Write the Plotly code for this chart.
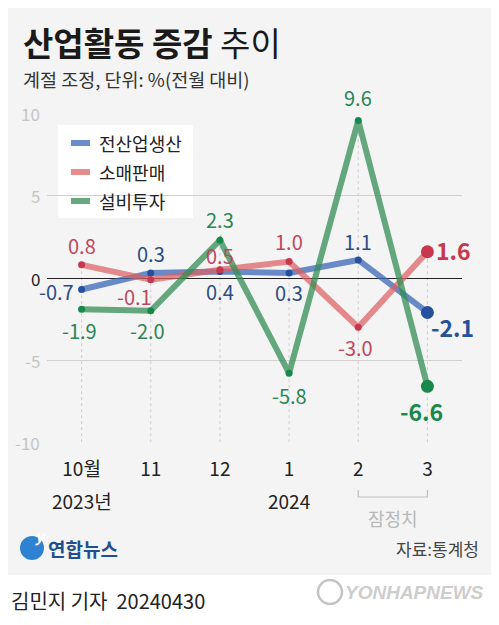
import plotly.graph_objects as go

# ---- data ----
months = ["10월", "11", "12", "1", "2", "3"]
years = ["2023년", "", "", "2024", "", ""]
series_names = ["전산업생산", "소매판매", "설비투자"]
industry = [-0.7, 0.3, 0.4, 0.3, 1.1, -2.1]
retail = [0.8, -0.1, 0.5, 1.0, -3.0, 1.6]
investment = [-1.9, -2.0, 2.3, -5.8, 9.6, -6.6]
y_ticks = [-10, -5, 0, 5, 10]

# the page puts the figure 8px in from the top-left corner,
# so the figure is 8px smaller and every screen position is shifted back
OFF = 8
W, H = 499 - OFF, 625 - OFF
L, R, T, B = 47 - OFF, 37, 113 - OFF, 182
PW, PH = W - L - R, H - T - B
FONT = "Noto Sans CJK KR"


def px(sx):
    return (sx - OFF - L) / PW


def py(sy):
    return (H - B - (sy - OFF)) / PH


line_cols = ["rgba(58,104,186,0.75)", "rgba(220,96,98,0.72)", "rgba(52,142,86,0.75)"]
dot_cols = ["#24509c", "#c8374f", "#178a4b"]
txt_cols = ["#2d4c85", "#c0485b", "#2b8553"]
# label offsets from each point, in screen pixels (dx right, dy down)
label_dx = [[-25, 0, 0, 0, 0, 25], [0, -16, 0, 0, -3, 26], [-2, -3, 0, 0, 0, -6]]
label_dy = [[2, -20, 20, 19, -18, 15], [-19, 17, -14, -20, 20, -2], [21, 20, -21, 22, -23, 25]]

xs = list(range(len(months)))
fig = go.Figure()

# light dotted guides from the bottom up to the highest point of each month
for i in xs:
    top = max(industry[i], retail[i], investment[i])
    fig.add_shape(type="line", xref="x", yref="y", x0=i, x1=i, y0=-10, y1=top,
                  line=dict(color="#cfcfcf", width=1, dash="dot"), layer="below")

for k, vals in enumerate([industry, retail, investment]):
    n = len(vals)
    fig.add_trace(go.Scatter(
        x=xs, y=vals, mode="lines", name=series_names[k],
        line=dict(color=line_cols[k], width=6),
        cliponaxis=False, showlegend=False, hoverinfo="skip",
    ))
    fig.add_trace(go.Scatter(
        x=xs, y=vals, mode="markers", name=series_names[k],
        marker=dict(color=dot_cols[k], size=[7] * (n - 1) + [13], opacity=1,
                    line=dict(width=0)),
        cliponaxis=False, showlegend=False, hoverinfo="skip",
    ))
    for i, v in enumerate(vals):
        last = i == n - 1
        fig.add_annotation(
            x=i, y=v, text=f"{v:.1f}", showarrow=False,
            xshift=label_dx[k][i], yshift=-label_dy[k][i],
            font=dict(family=FONT, size=23 if last else 20,
                      color=dot_cols[k] if last else txt_cols[k],
                      weight="bold" if last else "normal"),
        )

# y tick labels
for v in y_ticks:
    fig.add_annotation(xref="paper", yref="y", x=px(42), y=v, text=str(v),
                       showarrow=False, xanchor="right", yanchor="middle",
                       font=dict(family=FONT, size=17, color="#222" if v == 0 else "#c4c4c4"))

# gray background panel
fig.add_shape(type="rect", xref="paper", yref="paper", x0=px(0), x1=px(520),
              y0=py(575), y1=py(0), fillcolor="#f4f4f4", line_width=0, layer="below")

# legend box
fig.add_shape(type="rect", xref="paper", yref="paper", x0=px(58), x1=px(193),
              y0=py(218), y1=py(125), fillcolor="white", line_width=0, layer="below")
for k, name in enumerate(series_names):
    yy = 143 + k * 29
    fig.add_shape(type="line", xref="paper", yref="paper", x0=px(71), x1=px(90),
                  y0=py(yy), y1=py(yy), line=dict(color=line_cols[k], width=6))
    fig.add_annotation(xref="paper", yref="paper", x=px(97), y=py(yy), text=name,
                       showarrow=False, xanchor="left", yanchor="middle",
                       font=dict(family=FONT, size=18, color="#222"))

# year labels under the months
for i, yr in enumerate(years):
    if yr:
        fig.add_annotation(xref="x", yref="paper", x=i, y=py(500), text=yr,
                           showarrow=False, yanchor="middle",
                           font=dict(family=FONT, size=19, color="#222"))

# provisional bracket
fig.add_shape(type="path", xref="x", yref="paper",
              path=f"M 4,{py(490)} L 4,{py(497)} L 5,{py(497)} L 5,{py(490)}",
              line=dict(color="#bdbdbd", width=1.2))
fig.add_annotation(xref="x", yref="paper", x=4.5, y=py(518), text="잠정치",
                   showarrow=False, yanchor="middle",
                   font=dict(family=FONT, size=18, color="#b8b8b8"))

# title & subtitle
fig.add_annotation(xref="paper", yref="paper", x=px(21), y=py(42),
                   text="<b>산업활동 증감</b> 추이", showarrow=False,
                   xanchor="left", yanchor="middle",
                   font=dict(family=FONT, size=33, color="#1a1a1a"))
fig.add_annotation(xref="paper", yref="paper", x=px(21), y=py(79),
                   text="계절 조정, 단위: %(전월 대비)", showarrow=False,
                   xanchor="left", yanchor="middle",
                   font=dict(family=FONT, size=18.5, color="#333"))

# footer
fig.add_shape(type="circle", xref="paper", yref="paper", x0=px(20), x1=px(44),
              y0=py(560), y1=py(536), fillcolor="#2f82d2", line_width=0)
fig.add_annotation(xref="paper", yref="paper", x=px(32), y=py(548), text="<i><b>y</b></i>",
                   showarrow=False, font=dict(family=FONT, size=15, color="white"))
fig.add_annotation(xref="paper", yref="paper", x=px(46), y=py(548), text="<b>연합뉴스</b>",
                   showarrow=False, xanchor="left", yanchor="middle",
                   font=dict(family=FONT, size=19, color="#1d4f91"))
fig.add_annotation(xref="paper", yref="paper", x=px(481), y=py(548), text="자료:통계청",
                   showarrow=False, xanchor="right", yanchor="middle",
                   font=dict(family=FONT, size=17, color="#444"))
fig.add_annotation(xref="paper", yref="paper", x=px(9), y=py(600), text="김민지 기자  20240430",
                   showarrow=False, xanchor="left", yanchor="middle",
                   font=dict(family=FONT, size=20, color="#222"))
fig.add_shape(type="circle", xref="paper", yref="paper", x0=px(318), x1=px(342),
              y0=py(604), y1=py(580), line=dict(color="#c4c4c4", width=2.5))
fig.add_annotation(xref="paper", yref="paper", x=px(486), y=py(592), text="<b><i>YONHAPNEWS</i></b>",
                   showarrow=False, xanchor="right", yanchor="middle",
                   font=dict(family="Liberation Sans", size=19, color="#cdcdcd"))

fig.update_layout(
    width=W, height=H,
    margin=dict(l=L, r=R, t=T, b=B, pad=0),
    paper_bgcolor="white", plot_bgcolor="rgba(0,0,0,0)",
    font=dict(family=FONT),
    xaxis=dict(range=[-0.5, 5.5], tickvals=xs, ticktext=months, showgrid=False,
               zeroline=False, showline=False, ticks="", ticklabelstandoff=13,
               tickfont=dict(family=FONT, size=19, color="#222"), fixedrange=True),
    yaxis=dict(range=[-10.05, 10.05], tickvals=y_ticks, showticklabels=False,
               showgrid=True, gridcolor="#d0d0d0", gridwidth=1,
               zeroline=True, zerolinecolor="#222", zerolinewidth=1,
               showline=False, ticks="", fixedrange=True),
)

fig.write_html("out.html")
